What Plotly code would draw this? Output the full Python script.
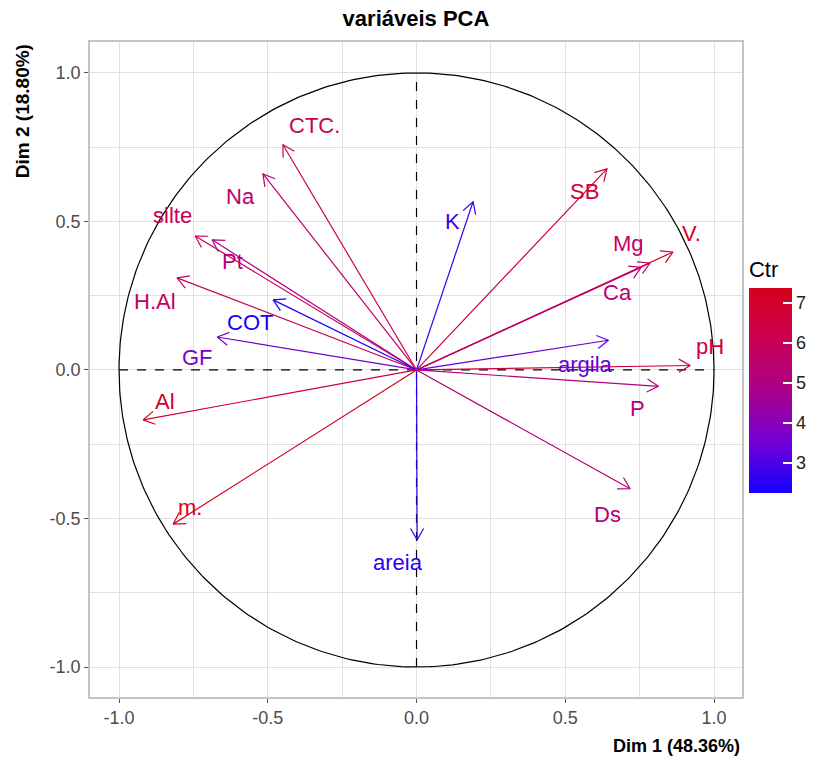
import numpy as np
import plotly.graph_objects as go
from plotly.colors import sample_colorscale

# PCA variable coordinates on the first two dimensions and their contributions
variables = ["CTC.", "Na", "silte", "Pt", "H.Al", "COT", "GF", "Al", "m.", "areia",
             "K", "SB", "V.", "Mg", "Ca", "argila", "pH", "P", "Ds"]
dim1 = [-0.449, -0.516, -0.744, -0.687, -0.805, -0.482, -0.670, -0.919, -0.818, 0.002,
        0.190, 0.640, 0.862, 0.785, 0.755, 0.645, 0.920, 0.813, 0.718]
dim2 = [0.758, 0.660, 0.451, 0.438, 0.310, 0.236, 0.111, -0.168, -0.519, -0.572,
        0.566, 0.677, 0.397, 0.360, 0.345, 0.100, 0.015, -0.055, -0.400]
ctr = [6.08, 5.50, 5.93, 5.20, 5.83, 2.26, 3.62, 6.84, 7.35, 2.56,
       2.79, 6.80, 7.06, 5.85, 5.40, 3.34, 6.63, 5.20, 5.30]

axis_ticks = [-1.0, -0.5, 0.0, 0.5, 1.0]
axis_ticktext = ["-1.0", "-0.5", "0.0", "0.5", "1.0"]
ctr_ticks = [3, 4, 5, 6, 7]
dim1_title = "Dim 1 (48.36%)"
dim2_title = "Dim 2 (18.80%)"
chart_title = "variáveis PCA"

# label placement relative to each arrow tip (pixels: right, up)
label_shift = {
    "CTC.": (32, 19), "Na": (-23, -23), "silte": (-23, 20), "Pt": (20, -22),
    "H.Al": (-22, -24), "COT": (-23, -23), "GF": (-20, -21), "Al": (22, 18),
    "m.": (17, 17), "areia": (-19, -23), "K": (-21, -20), "SB": (-22, -23),
    "V.": (19, 19), "Mg": (-22, 20), "Ca": (-24, -25), "argila": (-23, -24),
    "pH": (20, 19), "P": (-21, -22), "Ds": (-23, -26),
}

CMIN, CMAX = 2.25, 7.38
colorscale = [[0.0, "#1500FF"], [0.25, "#7400D4"], [0.5, "#AA008C"],
              [0.75, "#CA0052"], [1.0, "#D6001A"]]
FONT = "Liberation Sans, Arial, sans-serif"

fig = go.Figure()

# correlation circle
t = np.linspace(0, 2 * np.pi, 400)
fig.add_trace(go.Scatter(x=np.cos(t), y=np.sin(t), mode="lines",
                         line=dict(color="black", width=1.2),
                         hoverinfo="skip", showlegend=False))
# dashed reference axes inside the circle
fig.add_trace(go.Scatter(x=[-1, 1, None, 0, 0], y=[0, 0, None, -1, 1], mode="lines",
                         line=dict(color="black", width=1.2, dash="dash"),
                         hoverinfo="skip", showlegend=False))

fracs = [(c - CMIN) / (CMAX - CMIN) for c in ctr]
colors = sample_colorscale(colorscale, fracs)

head_len = 0.044
head_ang = np.deg2rad(30)
annotations = []
for name, x, y, col in zip(variables, dim1, dim2, colors):
    th = np.arctan2(y, x)
    h1 = (x - head_len * np.cos(th - head_ang), y - head_len * np.sin(th - head_ang))
    h2 = (x - head_len * np.cos(th + head_ang), y - head_len * np.sin(th + head_ang))
    fig.add_trace(go.Scatter(
        x=[0, x, None, h1[0], x, h2[0]],
        y=[0, y, None, h1[1], y, h2[1]],
        mode="lines", line=dict(color=col, width=1.2),
        hoverinfo="skip", showlegend=False))
    dx, dy = label_shift[name]
    annotations.append(dict(x=x, y=y, xref="x", yref="y", text=name, showarrow=False,
                            xshift=dx, yshift=dy,
                            font=dict(family=FONT, size=22, color=col)))

# colour bar for contributions
fig.add_trace(go.Scatter(
    x=[0], y=[0], mode="markers",
    marker=dict(size=0.1, color=[ctr[0]], colorscale=colorscale, cmin=CMIN, cmax=CMAX,
                showscale=True,
                colorbar=dict(
                    title=dict(text="Ctr", side="top",
                               font=dict(family=FONT, size=22, color="black")),
                    x=1.0107, xanchor="left", xpad=0,
                    y=0.3115, yanchor="bottom", ypad=0,
                    thickness=43, lenmode="pixels", len=235,
                    outlinewidth=0, tickvals=ctr_ticks, ticks="inside",
                    tickcolor="white", ticklen=9, tickwidth=1.5,
                    tickfont=dict(family=FONT, size=18, color="#222222"))),
    hoverinfo="skip", showlegend=False))

annotations.append(dict(text=f"<b>{dim1_title}</b>", xref="paper", yref="paper",
                        x=1.0, y=-0.0755, xanchor="right", yanchor="middle",
                        showarrow=False, font=dict(family=FONT, size=18, color="black")))
annotations.append(dict(text=f"<b>{dim2_title}</b>", xref="paper", yref="paper",
                        x=-0.104, y=1.0, xanchor="center", yanchor="top", textangle=-90,
                        showarrow=False, font=dict(family=FONT, size=19, color="black")))

grid_col = "#E0E0E0"
axis_common = dict(
    tickvals=axis_ticks, ticktext=axis_ticktext, showgrid=True, gridcolor=grid_col,
    gridwidth=1.2, minor=dict(dtick=0.25, tick0=0, showgrid=True, gridcolor=grid_col,
                              gridwidth=1.2),
    zeroline=False, showline=True, mirror=True, linecolor="#C4C4C4", linewidth=1.5,
    ticks="outside", ticklen=4, tickcolor="#555555",
    tickfont=dict(family=FONT, size=18, color="#4D4D4D"),
)

fig.update_layout(
    width=819, height=762,
    margin=dict(l=90, r=77, t=42, b=65, autoexpand=False),
    paper_bgcolor="white", plot_bgcolor="white",
    title=dict(text=f"<b>{chart_title}</b>", x=0.5, xref="paper", xanchor="center",
               y=1 - 18 / 762, yanchor="middle",
               font=dict(family=FONT, size=22, color="black")),
    xaxis=dict(range=[-1.0975, 1.094], **axis_common),
    yaxis=dict(range=[-1.101, 1.104], **axis_common),
    annotations=annotations,
    showlegend=False,
)

fig.write_html("out.html")
